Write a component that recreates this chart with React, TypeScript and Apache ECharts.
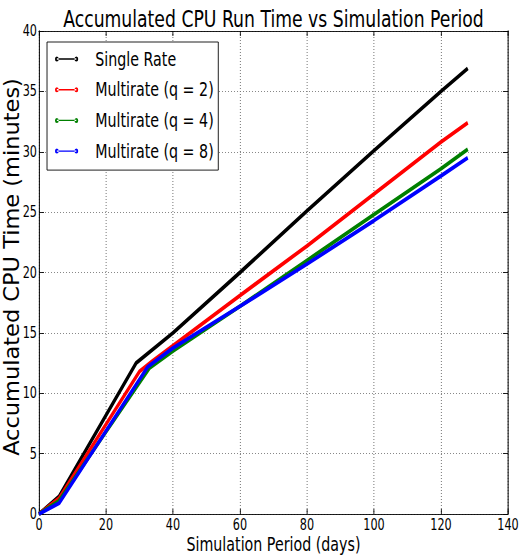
import React, { useEffect, useRef } from "react";
import * as echarts from "echarts";

const SX = 0.75;
const W = 519 / SX;
const H = 560;

const seriesNames = ["Single Rate", "Multirate (q = 2)", "Multirate (q = 4)", "Multirate (q = 8)"];
const seriesColors = ["#000000", "#ff0000", "#008000", "#0000ff"];

const singleX = [0, 6, 29, 40, 60, 80, 100, 120, 128];
const singleY = [0, 1.45, 12.5, 15.0, 20.0, 25.1, 30.1, 35.0, 36.9];
const q2X = [0, 6, 30, 34, 60, 80, 100, 120, 128];
const q2Y = [0, 1.3, 11.8, 12.7, 18.1, 22.2, 26.5, 30.8, 32.4];
const q4X = [0, 6, 33, 40, 60, 80, 100, 120, 128];
const q4Y = [0, 1.1, 12.1, 13.5, 17.2, 21.0, 24.8, 28.6, 30.2];
const q8X = [0, 6, 32.5, 40, 60, 80, 100, 120, 128];
const q8Y = [0, 0.9, 12.2, 13.75, 17.2, 20.7, 24.3, 28.0, 29.5];

const xMin = 0, xMax = 140, xStep = 20;
const yMin = 0, yMax = 40, yStep = 5;

const titleText = "Accumulated CPU Run Time vs Simulation Period";
const xLabel = "Simulation Period (days)";
const yLabel = "Accumulated CPU Time (minutes)";

const FONT = "DejaVu Sans";

const legendIcon =
  "path://M2.5,2.3 L28.5,2.3 L28.5,3.7 L2.5,3.7 Z M0,3 A2.5,2.5 0 1 0 5,3 A2.5,2.5 0 1 0 0,3 Z M26,3 A2.5,2.5 0 1 0 31,3 A2.5,2.5 0 1 0 26,3 Z";

function pairs(xs: number[], ys: number[]) {
  return xs.map((x, i) => [x, ys[i]]);
}

export default function App() {
  const ref = useRef<HTMLDivElement>(null);
  useEffect(() => {
    document.body.style.margin = "0";
    if (!ref.current) return;
    const chart = echarts.init(ref.current, undefined, { renderer: "svg" });
    const gridLeft = 52;
    const gridRight = 14.7;
    const gridTop = 31;
    const gridBottom = 46;
    const plotCenterX = gridLeft + (W - gridLeft - gridRight) / 2;
    const tickInside = { show: true, inside: true, length: 5, lineStyle: { color: "#000", width: 1 } };
    const tickInsideY = { show: true, inside: true, length: 5 / SX, lineStyle: { color: "#000", width: 1 } };
    const allData = [pairs(singleX, singleY), pairs(q2X, q2Y), pairs(q4X, q4Y), pairs(q8X, q8Y)];
    chart.setOption({
      animation: false,
      grid: {
        left: gridLeft,
        right: gridRight,
        top: gridTop,
        bottom: gridBottom,
        containLabel: false,
        outerBoundsMode: "none",
      },
      graphic: [
        {
          type: "text",
          x: plotCenterX,
          y: 18.7,
          style: {
            text: titleText,
            font: `23px "${FONT}"`,
            fill: "#000",
            textAlign: "center",
            textVerticalAlign: "middle",
          },
        },
        {
          type: "text",
          x: 16.2,
          y: 267,
          rotation: Math.PI / 2,
          scaleX: 1,
          scaleY: 1.22,
          style: {
            text: yLabel,
            font: `22.5px "${FONT}"`,
            fill: "#000",
            textAlign: "center",
            textVerticalAlign: "middle",
          },
        },
      ],
      legend: {
        orient: "vertical",
        left: 62.7,
        top: 42,
        padding: [7, 6, 9, 10.6],
        itemGap: 10.7,
        itemWidth: 31,
        itemHeight: 5,
        borderColor: "#000",
        borderWidth: 1,
        backgroundColor: "#fff",
        icon: legendIcon,
        data: seriesNames,
        textStyle: {
          fontFamily: FONT,
          fontSize: 19,
          lineHeight: 20,
          color: "#000",
          padding: [0, 0, 0, 17.7],
        },
      },
      xAxis: [
        {
          type: "value",
          min: xMin,
          max: xMax,
          interval: xStep,
          position: "bottom",
          name: xLabel,
          nameLocation: "middle",
          nameGap: 21,
          nameMoveOverlap: false,
          nameTextStyle: { fontFamily: FONT, fontSize: 19, color: "#000" },
          axisLine: { show: true, onZero: false, lineStyle: { color: "#000", width: 1 } },
          axisTick: tickInside,
          axisLabel: { fontFamily: FONT, fontSize: 15, color: "#000", margin: 3 },
          splitLine: { show: true, lineStyle: { color: "#777", width: 1 / SX, type: [1, 2] } },
        },
        {
          type: "value",
          min: xMin,
          max: xMax,
          interval: xStep,
          position: "top",
          axisLine: { show: true, onZero: false, lineStyle: { color: "#000", width: 1 } },
          axisTick: tickInside,
          axisLabel: { show: false },
          splitLine: { show: false },
        },
      ],
      yAxis: [
        {
          type: "value",
          min: yMin,
          max: yMax,
          interval: yStep,
          position: "left",
          axisLine: { show: true, onZero: false, lineStyle: { color: "#000", width: 1 / SX } },
          axisTick: tickInsideY,
          axisLabel: { fontFamily: FONT, fontSize: 15, color: "#000", margin: 2.7 },
          splitLine: { show: true, lineStyle: { color: "#777", width: 1, type: [1 / SX, 2 / SX] } },
        },
        {
          type: "value",
          min: yMin,
          max: yMax,
          interval: yStep,
          position: "right",
          axisLine: { show: true, onZero: false, lineStyle: { color: "#000", width: 1 / SX } },
          axisTick: tickInsideY,
          axisLabel: { show: false },
          splitLine: { show: false },
        },
      ],
      series: seriesNames.map((name, i) => ({
        name,
        type: "line",
        xAxisIndex: 0,
        yAxisIndex: 0,
        data: allData[i],
        symbol: "none",
        color: seriesColors[i],
        itemStyle: { color: seriesColors[i] },
        lineStyle: { color: seriesColors[i], width: 4 },
      })),
    });
    return () => chart.dispose();
  }, []);
  return (
    <div style={{ width: 519, height: H, overflow: "hidden", position: "relative" }}>
      <div
        ref={ref}
        style={{ width: W, height: H, transform: `scaleX(${SX})`, transformOrigin: "0 0" }}
      />
    </div>
  );
}
